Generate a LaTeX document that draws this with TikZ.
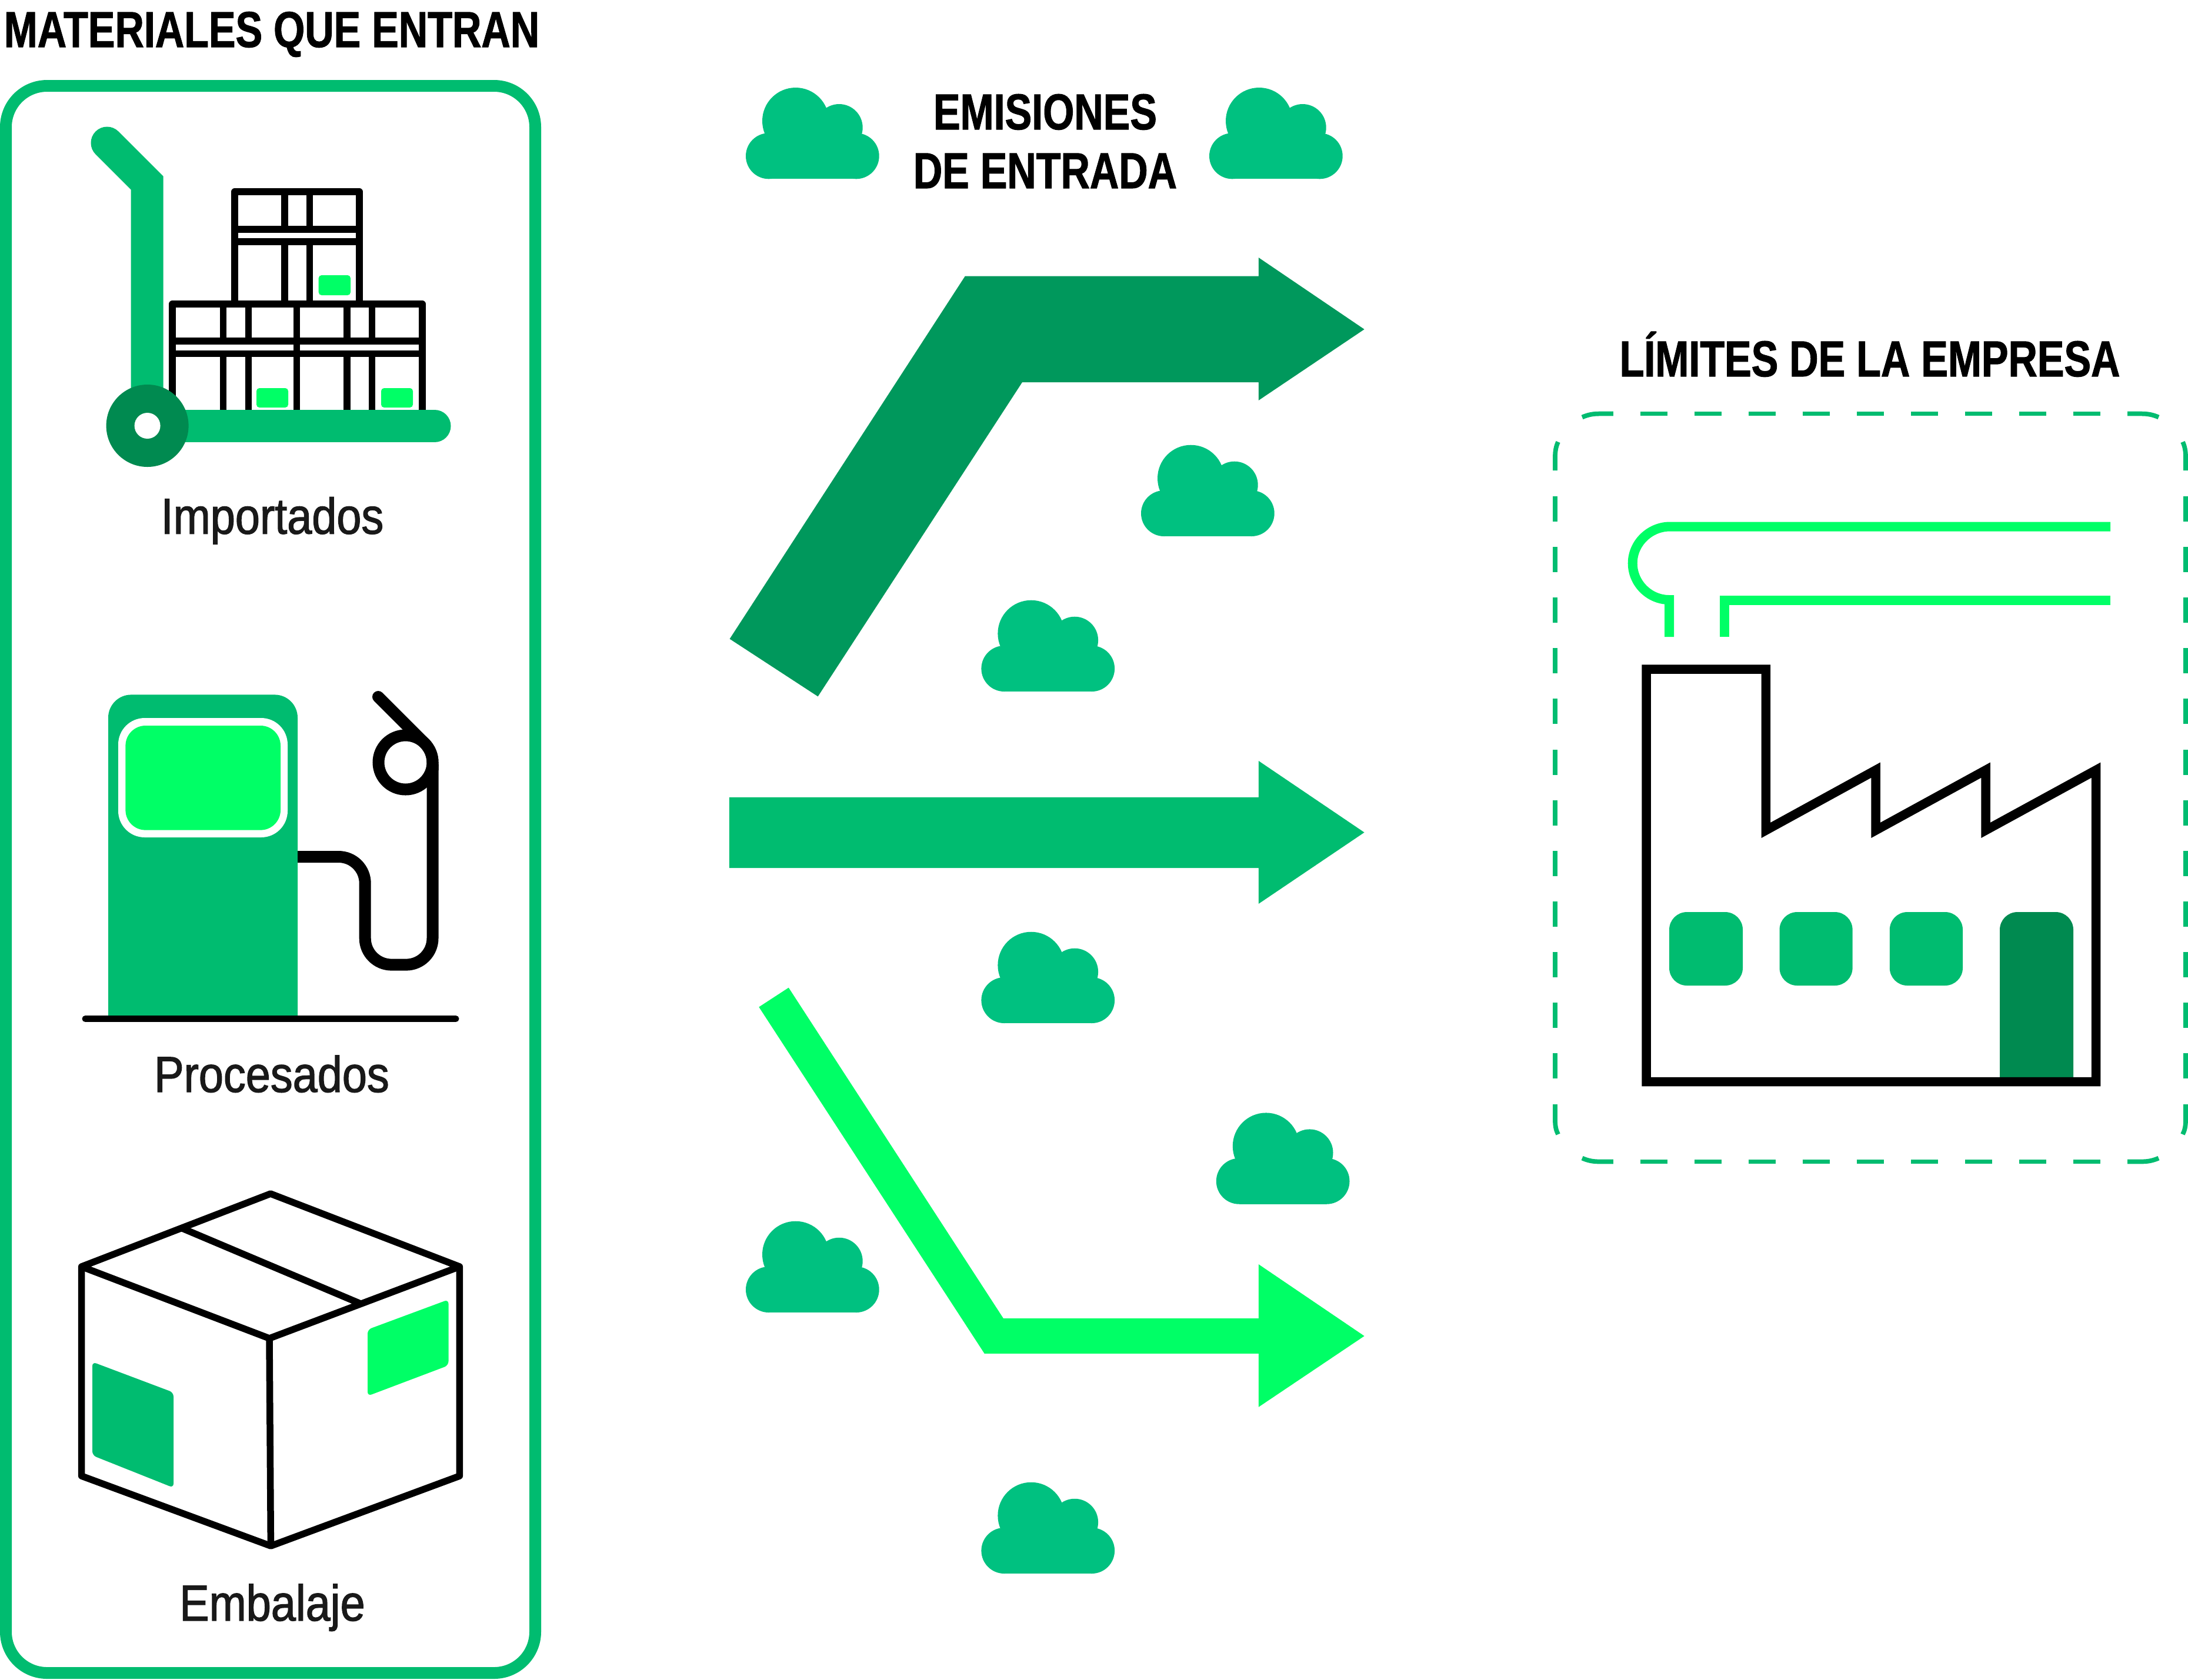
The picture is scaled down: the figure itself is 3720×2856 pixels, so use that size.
\documentclass[tikz,border=0pt]{standalone}
\usepackage{fontspec}
\setmainfont{Liberation Sans}
\newfontfamily\headfont[FakeStretch=0.795,FakeBold=1.2]{Liberation Sans Bold}
\newfontfamily\itemfont[FakeStretch=0.88,FakeBold=1.5]{Liberation Sans}
\definecolor{boxgreen}{HTML}{00BC70}
\definecolor{darkgreen}{HTML}{008A50}
\definecolor{flowgreen}{HTML}{00985C}
\definecolor{brightgreen}{HTML}{00FF66}
\definecolor{cloudgreen}{HTML}{00C180}
\tikzset{
	headlabel/.style={inner sep=0pt, anchor=base, font=\headfont\fontsize{17.2}{20}\selectfont},
	itemlabel/.style={inner sep=0pt, anchor=base, text=black!90, font=\itemfont\fontsize{17.2}{20}\selectfont},
	blackline/.style={line width=2.3pt, color=black, line join=round},
	hoseline/.style={line width=4pt, color=black},
	pipeline/.style={line width=3.2pt, color=brightgreen},
	limitline/.style={line width=1.55pt, color=boxgreen}
}
\def\cloud(#1,#2){
	\fill[cloudgreen, shift={(#1,#2)}] (39,-39) circle (39);
	\fill[cloudgreen, shift={(#1,#2)}] (187.7,-39) circle (39);
	\fill[cloudgreen, shift={(#1,#2)}] (84.7,-98.6) circle (56.7);
	\fill[cloudgreen, shift={(#1,#2)}] (158.7,-87.3) circle (40);
	\fill[cloudgreen, shift={(#1,#2)}] (39,-78) rectangle (187.7,0);
}
\begin{document}
\begin{tikzpicture}[x=0.2pt, y=-0.2pt]
	\useasboundingbox (0,0) rectangle (3720,2856);
	%%%%% LEFT PANEL %%%%%
	\node[headlabel] (materiales) at (462,80) {MATERIALES QUE ENTRAN};
	\draw[line width=4pt, color=boxgreen, rounded corners=14pt] (10,146) rectangle (910,2845);

	% trolley
	\draw[line width=11pt, color=boxgreen, line cap=round] (182,243) -- (250,311) -- (250,724);
	\draw[blackline] (399,511) -- (399,326) -- (611,326) -- (611,511);
	\foreach \strapx in {484,526.6} {
		\draw[blackline] (\strapx,326) -- (\strapx,390);
		\draw[blackline] (\strapx,411) -- (\strapx,511);
	}
	\draw[blackline] (399,390) -- (611,390);
	\draw[blackline] (399,411) -- (611,411);
	\draw[blackline] (293,697) -- (293,517) -- (718,517) -- (718,697);
	\draw[blackline] (504.7,517) -- (504.7,697);
	\foreach \strapx in {379.7,422.5,590,632.6} {
		\draw[blackline] (\strapx,517) -- (\strapx,580);
		\draw[blackline] (\strapx,601.7) -- (\strapx,697);
	}
	\draw[blackline] (293,580) -- (718,580);
	\draw[blackline] (293,601.7) -- (718,601.7);
	\fill[brightgreen, rounded corners=1pt] (541.7,468) rectangle (596,502);
	\fill[brightgreen, rounded corners=1pt] (436,660) rectangle (490,693);
	\fill[brightgreen, rounded corners=1pt] (648,660) rectangle (702,693);
	\draw[line width=11pt, color=boxgreen, line cap=round] (250,724.5) -- (739,724.5);
	\fill[darkgreen] (250.6,724) circle (70);
	\fill[white] (250.6,724) circle (22);
	\node[itemlabel] (importados) at (463,907.6) {Importados};

	% pump
	\fill[boxgreen] (184,1727) [rounded corners=7.8pt] -- (184,1181.4) -- (506,1181.4) [sharp corners] -- (506,1727) -- cycle;
	\fill[white, rounded corners=9pt] (201,1221) rectangle (489,1424);
	\fill[brightgreen, rounded corners=6.8pt] (213.4,1234) rectangle (477,1411.6);
	\draw[hoseline, rounded corners=9pt] (506,1457) -- (620.7,1457) -- (620.7,1640.6) -- (735.5,1640.6) -- (735.5,1300);
	\draw[hoseline, line cap=round] (643,1185) -- (722,1264);
	\draw[hoseline] (722,1264) .. controls (730.6,1272.6) and (735.5,1284.3) .. (735.5,1296.5) -- (735.5,1310);
	\draw[hoseline] (689.5,1296.5) circle (46);
	\draw[line width=2.2pt, color=black, line cap=round] (145,1732.5) -- (775,1732.5);
	\node[itemlabel] (procesados) at (462,1857) {Procesados};

	% package
	\fill[boxgreen, rounded corners=1.4pt] (157,2316) -- (295,2368) -- (295,2530) -- (157,2475) -- cycle;
	\fill[brightgreen, rounded corners=1.4pt] (625,2261) -- (762.5,2210) -- (762.5,2322) -- (625,2374) -- cycle;
	\draw[blackline] (138.6,2154) -- (460,2030) -- (781.4,2154) -- (781.4,2510) -- (460.4,2629) -- (138.6,2510) -- cycle;
	\draw[blackline] (138.6,2154) -- (458,2276) -- (781.4,2154);
	\draw[blackline] (458,2276) -- (460.4,2629);
	\draw[blackline] (309,2088.5) -- (613,2217);
	\node[itemlabel] (embalaje) at (463,2756) {Embalaje};

	%%%%% EMISSIONS %%%%%
	\node[headlabel] (emisiones) at (1777,220) {EMISIONES};
	\node[headlabel] (entrada) at (1777,320) {DE ENTRADA};
	\cloud(1268,304.3)
	\cloud(2056,304.3)
	\cloud(1940,912)
	\cloud(1668.4,1176)
	\cloud(1668.4,1740)
	\cloud(2067.8,2047.7)
	\cloud(1268,2232)
	\cloud(1668.4,2676)

	\fill[flowgreen] (1240.6,1086.5) -- (1640.8,469.6) -- (2139.8,469.6) -- (2139.8,438) -- (2319.6,560) -- (2139.8,680.9) -- (2139.8,650) -- (1738,650) -- (1390.6,1184.4) -- cycle;
	\fill[boxgreen] (1239.8,1355.8) -- (2139.8,1355.8) -- (2139.8,1293.9) -- (2319.6,1415.6) -- (2139.8,1537) -- (2139.8,1476) -- (1239.8,1476) -- cycle;
	\fill[brightgreen] (1290.3,1712.5) -- (1340.8,1679.6) -- (1705.9,2242) -- (2139.8,2242) -- (2139.8,2150) -- (2319.6,2272) -- (2139.8,2392.8) -- (2139.8,2301.8) -- (1673.7,2301.8) -- cycle;

	%%%%% FACTORY %%%%%
	\node[headlabel] (limites) at (3179,640) {LÍMITES DE LA EMPRESA};

	% dashed limit, side by side
	\foreach \dashx in {2789,2880.9,2972.8,3064.7,3156.6,3249,3340.9,3432.8,3524.7} {
		\draw[limitline] (\dashx,703.6) -- ++(46,0);
		\draw[limitline] (\dashx,1975.4) -- ++(46,0);
	}
	\foreach \dashy in {844,930,1016,1102,1188,1275,1361,1447,1533,1619,1705,1791} {
		\draw[limitline] (2644,\dashy) -- ++(0,43);
		\draw[limitline] (3716,\dashy) -- ++(0,43);
	}
	\draw[limitline] (2742.8,703.6) -- (2718,703.6) .. controls (2708,703.6) and (2699,705.5) .. (2690,709.5);
	\draw[limitline] (3617,703.6) -- (3642,703.6) .. controls (3652,703.6) and (3661,705.5) .. (3670,709.5);
	\draw[limitline] (2742.8,1975.4) -- (2718,1975.4) .. controls (2708,1975.4) and (2699,1973.5) .. (2690,1969.5);
	\draw[limitline] (3617,1975.4) -- (3642,1975.4) .. controls (3652,1975.4) and (3661,1973.5) .. (3670,1969.5);
	\draw[limitline] (2644,800) -- (2644,777) .. controls (2644,767) and (2645.5,759) .. (2649,751.5);
	\draw[limitline] (3716,800) -- (3716,777) .. controls (3716,767) and (3714.5,759) .. (3711,751.5);
	\draw[limitline] (2644,1878) -- (2644,1905) .. controls (2644,1915) and (2645.5,1922) .. (2649,1929);
	\draw[limitline] (3716,1878) -- (3716,1905) .. controls (3716,1915) and (3714.5,1922) .. (3711,1929);

	\draw[pipeline] (3588,895.5) -- (2839,895.5) .. controls (2805,895.5) and (2775.7,923.5) .. (2775.7,957.8) .. controls (2775.7,992) and (2804,1020) .. (2838,1020) -- (2838,1083);
	\draw[pipeline] (3588,1021) -- (2931.5,1021) -- (2931.5,1083);

	\fill[boxgreen, rounded corners=6pt] (2838,1551) rectangle (2963,1676);
	\fill[boxgreen, rounded corners=6pt] (3025.5,1551) rectangle (3149.6,1676);
	\fill[boxgreen, rounded corners=6pt] (3212.8,1551) rectangle (3337,1676);
	\fill[darkgreen] (3400,1835) [rounded corners=6pt] -- (3400,1551) -- (3525,1551) [sharp corners] -- (3525,1835) -- cycle;
	\draw[line width=3.1pt, color=black] (2799,1138) -- (3002.3,1138) -- (3002.3,1412) -- (3189,1309.6) -- (3189,1412) -- (3376,1309.6) -- (3376,1412) -- (3563.5,1309.6) -- (3563.5,1839.5) -- (2799,1839.5) -- cycle;
\end{tikzpicture}
\end{document}
